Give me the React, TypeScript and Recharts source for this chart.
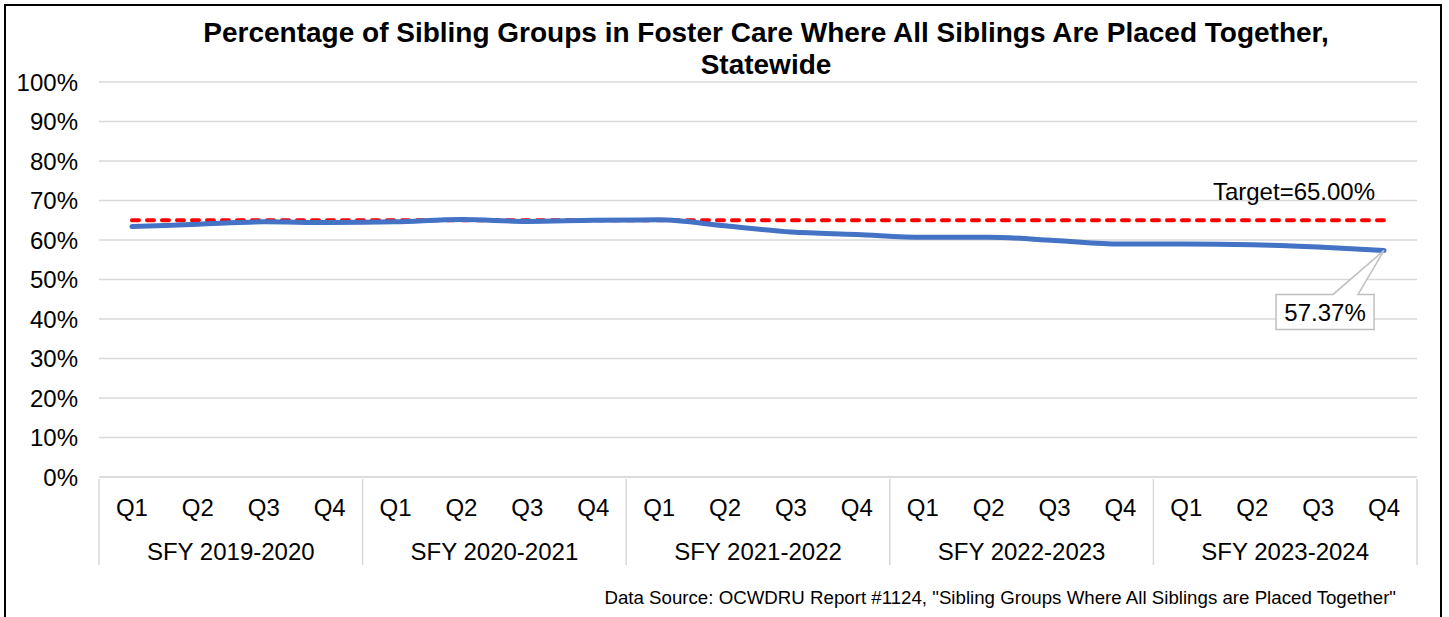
import { LineChart, Line, XAxis, YAxis, CartesianGrid, LabelList } from 'recharts';

const FONT = '"Liberation Sans", Arial, sans-serif';

const fiscalYears = ['SFY 2019-2020', 'SFY 2020-2021', 'SFY 2021-2022', 'SFY 2022-2023', 'SFY 2023-2024'];
const quarters = ['Q1', 'Q2', 'Q3', 'Q4'];
const placedTogether = [
  63.4, 64.0, 64.6, 64.4,
  64.6, 65.2, 64.7, 65.0,
  65.1, 63.6, 62.0, 61.4,
  60.7, 60.7, 59.9, 59.0,
  59.0, 58.8, 58.2, 57.37,
];
const targetPct = 65;
const yTicks = [0, 10, 20, 30, 40, 50, 60, 70, 80, 90, 100];

const data = placedTogether.map((v, i) => ({
  key: `${fiscalYears[Math.floor(i / 4)]} ${quarters[i % 4]}`,
  quarter: quarters[i % 4],
  year: fiscalYears[Math.floor(i / 4)],
  value: v,
  target: targetPct,
}));

const W = 1449;
const H = 617;
const M = { top: 82, right: 32, left: 0, bottom: 50 };
const Y_W = 99;
const bandW = (W - Y_W - M.right) / data.length;
const FS = 24;

const QuarterTick = (props: any) => {
  const { x, y, payload } = props;
  const i = payload.index;
  const d = data[i];
  return (
    <g>
      <text x={x} y={y + 28} textAnchor="middle" dominantBaseline="central" fontSize={FS} fontFamily={FONT} fill="#000">
        {d.quarter}
      </text>
      {i % 4 === 0 && (
        <line x1={x - bandW / 2} x2={x - bandW / 2} y1={y} y2={y + 86} stroke="#d9d9d9" strokeWidth={1.5} />
      )}
      {i === data.length - 1 && (
        <line x1={x + bandW / 2} x2={x + bandW / 2} y1={y} y2={y + 86} stroke="#d9d9d9" strokeWidth={1.5} />
      )}
      {i % 4 === 1 && (
        <text x={x + bandW / 2} y={y + 72} textAnchor="middle" dominantBaseline="central" fontSize={FS} fontFamily={FONT} fill="#000">
          {d.year}
        </text>
      )}
    </g>
  );
};

const LastValueCallout = (props: any) => {
  const { x, y, index, value } = props;
  if (index !== data.length - 1) return null;
  const l = x - 108, r = x - 10, t = y + 44, b = y + 79;
  return (
    <g>
      <path
        d={`M${l},${t} L${x - 51},${t} L${x},${y} L${x - 26},${t} L${r},${t} L${r},${b} L${l},${b} Z`}
        fill="#fff"
        stroke="#bfbfbf"
        strokeWidth={1.5}
      />
      <text x={(l + r) / 2} y={(t + b) / 2 + 1} textAnchor="middle" dominantBaseline="central" fontSize={FS} fontFamily={FONT} fill="#000">
        {`${Number(value).toFixed(2)}%`}
      </text>
    </g>
  );
};

const TargetLabel = (props: any) => {
  const { x, y, index, value } = props;
  if (index !== data.length - 1) return null;
  return (
    <text x={x - 9} y={y - 29} textAnchor="end" dominantBaseline="central" fontSize={FS} fontFamily={FONT} fill="#000">
      {`Target=${Number(value).toFixed(2)}%`}
    </text>
  );
};

export default function App() {
  return (
    <div style={{ position: 'fixed', left: 0, top: 0, width: W, height: H, overflow: 'hidden', background: '#fff' }}>
      <div
        style={{
          position: 'absolute', left: 66, top: 17, width: 1400, textAlign: 'center',
          fontFamily: FONT, fontWeight: 700, fontSize: 28, lineHeight: '32px', color: '#000',
        }}
      >
        Percentage of Sibling Groups in Foster Care Where All Siblings Are Placed Together,
        <br />
        Statewide
      </div>
      <LineChart width={W} height={H} data={data} margin={M}>
        <CartesianGrid vertical={false} stroke="#d9d9d9" strokeWidth={1.5} />
        <XAxis
          dataKey="key"
          interval={0}
          height={90}
          padding={{ left: bandW / 2, right: bandW / 2 }}
          tickLine={false}
          tickSize={0}
          axisLine={{ stroke: '#d9d9d9', strokeWidth: 1.5 }}
          tick={<QuarterTick />}
        />
        <YAxis
          width={Y_W}
          domain={[0, 100]}
          ticks={yTicks}
          tickLine={false}
          axisLine={false}
          tickMargin={15}
          tickFormatter={(v: number) => `${v}%`}
          tick={{ fontSize: FS, fontFamily: FONT, fill: '#000' }}
        />
        <Line
          dataKey="target"
          stroke="#ff0000"
          strokeWidth={4}
          strokeDasharray="7 8"
          strokeLinecap="round"
          dot={false}
          isAnimationActive={false}
        >
          <LabelList dataKey="target" content={<TargetLabel />} />
        </Line>
        <Line
          type="monotone"
          dataKey="value"
          stroke="#4472c4"
          strokeWidth={5}
          strokeLinecap="round"
          dot={false}
          isAnimationActive={false}
        >
          <LabelList dataKey="value" content={<LastValueCallout />} />
        </Line>
      </LineChart>
      <div
        style={{
          position: 'absolute', right: 1449 - 1396, top: 587, fontFamily: FONT, fontSize: 18.7,
          lineHeight: '22px', color: '#000', whiteSpace: 'nowrap',
        }}
      >
        Data Source: OCWDRU Report #1124, "Sibling Groups Where All Siblings are Placed Together"
      </div>
      <div
        style={{
          position: 'absolute', left: 4, top: 4, width: 1438, height: 700,
          border: '2px solid #000', pointerEvents: 'none', boxSizing: 'border-box',
        }}
      />
    </div>
  );
}
